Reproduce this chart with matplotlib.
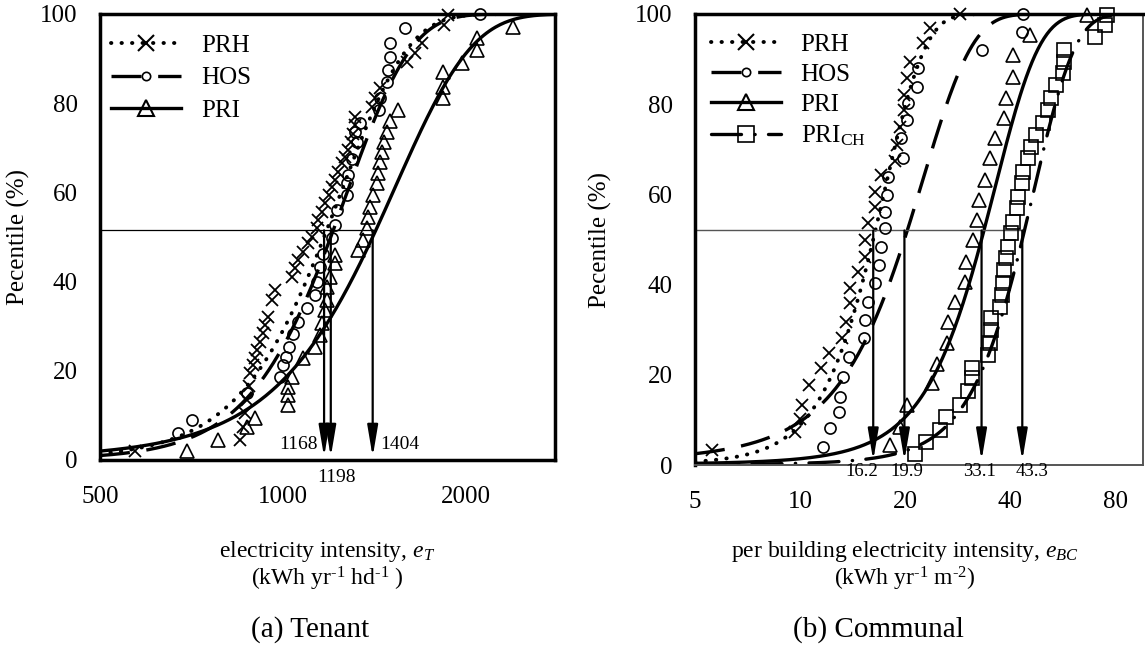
import math
import numpy as np
from matplotlib import pyplot as plt
from matplotlib.lines import Line2D
from matplotlib.ticker import FixedLocator, NullLocator, FuncFormatter

plt.rcParams['font.family'] = ['Liberation Serif', 'DejaVu Serif']
plt.rcParams['mathtext.fontset'] = 'custom'
plt.rcParams['mathtext.rm'] = 'Liberation Serif'
plt.rcParams['mathtext.it'] = 'Liberation Serif:italic'

#%% data

# (a) Tenant, electricity intensity (kWh/yr/hd) vs percentile
tenant_prh_x = [570, 850, 860, 866, 872, 878, 883, 894, 899, 905, 916, 928, 934, 946, 958,
                970, 1034, 1047, 1060, 1080, 1101, 1115, 1136, 1143, 1158, 1172, 1188, 1203,
                1218, 1233, 1249, 1265, 1281, 1295, 1305, 1313, 1313, 1400, 1417, 1444, 1600,
                1649, 1691, 1836, 1870]
tenant_prh_y = [2, 4.5, 7.5, 10.5, 13.5, 16.5, 19.4, 21.3, 22.8, 24.7, 26.5, 28.4, 30.3, 32.1,
                35.9, 38.1, 41.1, 43, 44.8, 46.7, 48.6, 50.1, 52, 53.8, 55.7, 57.6, 59.4, 61.3,
                62.8, 64.6, 66.5, 68, 69.5, 71.4, 73.2, 75.1, 77, 79.2, 81.1, 83.3, 89.3, 91.2,
                93.4, 97.5, 99.8]
tenant_hos_x = [672, 708, 872, 989, 1001, 1011, 1021, 1040, 1060, 1094, 1129, 1136, 1150, 1165,
                1203, 1218, 1225, 1273, 1273, 1281, 1300, 1322, 1313, 1339, 1438, 1444, 1481,
                1490, 1500, 1500, 1587, 2109]
tenant_hos_y = [6, 9, 15, 18.7, 21.3, 23.2, 25.4, 28.2, 31, 34, 37, 40, 43.2, 46.3, 49.7, 52.7,
                56, 59.4, 62, 63.9, 67.5, 71.4, 73.6, 75.5, 78.5, 81.1, 84.8, 87.4, 90.4, 93.4,
                96.8, 100]
tenant_pri_x = [694, 782, 872, 899, 1019, 1019, 1019, 1034, 1079, 1129, 1150, 1158, 1172, 1180,
                1180, 1195, 1218, 1218, 1328, 1354, 1373, 1380, 1390, 1406, 1426, 1433, 1444,
                1453, 1466, 1481, 1500, 1546, 1833, 1833, 1833, 1968, 2083, 2083, 2389]
tenant_pri_y = [2, 4.5, 7.5, 9.5, 12.3, 14.6, 16.4, 18.7, 22.9, 25.4, 28, 30.7, 33.6, 35.9,
                38.9, 41.1, 44.2, 46, 47, 49.3, 52, 54.5, 56.8, 59.4, 62.1, 64.3, 66.9, 69.1,
                71.4, 73.6, 75.9, 78.5, 81.2, 83.6, 87, 89, 91.9, 94.6, 97.1]
tenant_names = ["PRH", "HOS", "PRI"]
tenant_median = [1168, 1198, 1404]   # fitted medians (arrows)
tenant_sd = [305, 300, 440]          # spread of the fitted curves

# (b) Communal, per building electricity intensity (kWh/yr/m2)
communal_prh_x = [5.6, 9.7, 10.0, 10.1, 10.6, 11.5, 12.1, 13.2, 13.5, 13.9, 13.9, 14.7, 15.3,
                  15.3, 15.7, 16.4, 16.4, 17.1, 18.7, 18.9, 19.3, 19.9, 19.9, 20.3, 20.6, 22.5,
                  23.6, 28.7]
communal_prh_y = [3.3, 7.4, 10.3, 13.3, 17.7, 21.4, 24.8, 28.1, 31.8, 35.9, 39.2, 42.9, 46.2,
                  49.9, 53.6, 57.3, 60.6, 64.3, 67.3, 71, 75, 78.7, 82, 85.7, 89.4, 93.5, 96.8, 100]
communal_hos_x = [11.65, 12.2, 12.9, 13.0, 13.3, 13.8, 15.2, 15.3, 15.7, 16.4, 16.8, 17.1, 17.5,
                  17.5, 17.7, 17.9, 19.7, 19.5, 20.2, 20.4, 21.6, 21.8, 33.1, 43.1, 43.6]
communal_hos_y = [4.1, 8.1, 11.8, 15.1, 19.6, 24, 28.1, 32.2, 36.2, 40.3, 44.3, 48.4, 52.5, 56.2,
                  59.9, 63.9, 68, 72.4, 76.5, 80.2, 83.9, 88, 92, 96, 100]
communal_pri_x = [18.1, 19.3, 20.2, 23.8, 24.6, 26.3, 26.5, 27.7, 29.7, 29.9, 31.3, 32.2, 32.6,
                  33.8, 34.9, 36.2, 38.4, 38.8, 40.8, 40.8, 45.5, 66.2]
communal_pri_y = [4.4, 8.5, 13.3, 18.1, 22.5, 27, 31.8, 36.2, 40.6, 45.1, 49.9, 54.3, 58.8, 63.2,
                  68, 72.4, 76.9, 81.3, 86.1, 90.9, 95.3, 99.8]
communal_prich_x = [21.3, 23.0, 25.2, 26.2, 28.7, 30.3, 31.0, 31.0, 34.6, 35.0, 35.3, 35.3, 37.4,
                    37.8, 38.2, 38.5, 39.0, 39.4, 40.3, 40.8, 41.7, 42.2, 43.1, 43.6, 45.0, 46.0,
                    47.5, 49.6, 51.3, 52.4, 54.1, 56.6, 57.2, 57.2, 69.9, 74.9, 75.8]
communal_prich_y = [2.5, 5.2, 7.8, 10.7, 13.3, 16.3, 19.2, 21.4, 24.4, 27, 29.9, 32.5, 35.1,
                    37.7, 40.3, 43.2, 45.8, 48.4, 51.4, 53.9, 56.9, 59.5, 62.5, 65, 68, 70.6,
                    73.2, 75.8, 78.7, 81.3, 84.3, 86.9, 89.4, 92, 95, 97.6, 99.8]
communal_names = ["PRH", "HOS", "PRI", "PRI$_{\\mathrm{CH}}$"]
communal_median = [16.2, 19.9, 33.1, 43.3]
communal_sd = [4.6, 7.6, 10.5, 12.5]
communal_label_shift = [-8, 1.5, -1.5, 7]   # points, label offsets under the arrows

median_level = [51.5, 52.0]

#%% styles
W, H = 1145, 652
FS = 18
line_styles = [dict(ls=(0, (0.1, 2.6)), lw=2.8, dash_capstyle='round'),
               dict(ls=(0, (9, 5)), lw=2.4),
               dict(ls='-', lw=2.4),
               dict(ls=(0, (9, 4, 0.1, 4)), lw=2.4, dash_capstyle='round')]
marker_styles = [dict(marker='x', ms=8, mew=1.3, mfc='none', mec='k'),
                 dict(marker='o', ms=8, mew=1.2, mfc='none', mec='k'),
                 dict(marker='^', ms=10, mew=1.2, mfc='none', mec='k'),
                 dict(marker='s', ms=10, mew=1.2, mfc='none', mec='k')]
legend_marker = [dict(marker='x', ms=12, mew=1.5, mfc='none', mec='k'),
                 dict(marker='o', ms=6, mew=1.2, mfc='none', mec='k'),
                 dict(marker='^', ms=12, mew=1.5, mfc='none', mec='k'),
                 dict(marker='s', ms=11, mew=1.2, mfc='none', mec='k')]


def cdf(x, mu, sd):
    return np.array([50 * (1 + math.erf((v - mu) / (sd * math.sqrt(2)))) for v in x])


def setup(ax, xlim, xticks):
    ax.set_xscale("log")
    ax.set_xlim(*xlim)
    ax.set_ylim(0, 100)
    ax.xaxis.set_major_locator(FixedLocator(xticks))
    ax.xaxis.set_minor_locator(NullLocator())
    ax.xaxis.set_major_formatter(FuncFormatter(lambda v, p: "%g" % v))
    ax.set_yticks([0, 20, 40, 60, 80, 100])
    ax.tick_params(axis='x', length=0, labelsize=FS, pad=19)
    ax.tick_params(axis='y', length=0, labelsize=FS, pad=16)


fig = plt.figure(figsize=(W / 100, H / 100), dpi=100)
ax1 = fig.add_axes([100 / W, 1 - 460 / H, 455 / W, 446 / H])
ax2 = fig.add_axes([695 / W, 1 - 465 / H, 448 / W, 451 / H])

#%% (a) Tenant
setup(ax1, (500, 2800), [500, 1000, 2000])
tx = [tenant_prh_x, tenant_hos_x, tenant_pri_x]
ty = [tenant_prh_y, tenant_hos_y, tenant_pri_y]
grid = np.geomspace(500, 2800, 300)
for i in range(3):
    ax1.plot(grid, cdf(grid, tenant_median[i], tenant_sd[i]), color='k', **line_styles[i])
    ax1.plot(tx[i], ty[i], ls='none', clip_on=False, zorder=3, **marker_styles[i])
ax1.plot([500, tenant_median[-1]], [median_level[0]] * 2, color='k', lw=0.9)
for v in tenant_median:
    ax1.annotate('', xy=(v, 0.7), xytext=(v, median_level[0]),
                 arrowprops=dict(arrowstyle='-|>,head_length=1.9,head_width=0.32',
                                 lw=1.6, color='k', shrinkA=0, shrinkB=0, mutation_scale=10))
ax1.text(tenant_median[0] * 0.975, 3.5, "1168", fontsize=14, ha='right', va='center')
ax1.text(tenant_median[1] * 1.02, -4, "1198", fontsize=14, ha='center', va='center', clip_on=False)
ax1.text(tenant_median[2] * 1.03, 3.5, "1404", fontsize=14, ha='left', va='center')
for s in ax1.spines.values():
    s.set_linewidth(2.5)
ax1.legend([Line2D([], [], color='k', **line_styles[i], **legend_marker[i]) for i in range(3)],
           tenant_names, loc='upper left', bbox_to_anchor=(0.025, 0.955), frameon=False,
           fontsize=FS, handlelength=2.8, handletextpad=0.8, labelspacing=0.41,
           borderpad=0, borderaxespad=0, numpoints=1)

#%% (b) Communal
setup(ax2, (5, 96), [5, 10, 20, 40, 80])
cx = [communal_prh_x, communal_hos_x, communal_pri_x, communal_prich_x]
cy = [communal_prh_y, communal_hos_y, communal_pri_y, communal_prich_y]
grid = np.geomspace(5, 96, 300)
for i in range(4):
    ax2.plot(grid, cdf(grid, communal_median[i], communal_sd[i]), color='k', **line_styles[i])
    ax2.plot(cx[i], cy[i], ls='none', clip_on=False, zorder=3, **marker_styles[i])
ax2.plot([5, communal_median[-1]], [median_level[1]] * 2, color='#555555', lw=1.0)
for v, dx in zip(communal_median, communal_label_shift):
    ax2.annotate('', xy=(v, 1.0), xytext=(v, median_level[1]),
                 arrowprops=dict(arrowstyle='-|>,head_length=1.9,head_width=0.32',
                                 lw=1.6, color='k', shrinkA=0, shrinkB=0, mutation_scale=10))
    ax2.annotate("%.1f" % v, xy=(v, 0), xytext=(dx, -5), textcoords='offset points',
                 fontsize=13.5, ha='center', va='center', annotation_clip=False)
for k in ['left', 'top']:
    ax2.spines[k].set_linewidth(2.5)
for k in ['right', 'bottom']:
    ax2.spines[k].set_linewidth(1.4)
    ax2.spines[k].set_color('#555555')
ax2.legend([Line2D([], [], color='k', **line_styles[i], **legend_marker[i]) for i in range(4)],
           communal_names, loc='upper left', bbox_to_anchor=(0.035, 0.957), frameon=False,
           fontsize=FS, handlelength=2.8, handletextpad=0.8, labelspacing=0.3,
           borderpad=0, borderaxespad=0, numpoints=1)

#%% labels
fig.text(18 / W, 1 - 237 / H, "Pecentile (%)", rotation=90, fontsize=FS, ha='center', va='center')
fig.text(600 / W, 1 - 240 / H, "Pecentile (%)", rotation=90, fontsize=FS, ha='center', va='center')
fig.text(327 / W, 1 - 551 / H, "electricity intensity, $e_T$", fontsize=17, ha='center', va='center')
fig.text(327 / W, 1 - 579 / H, "(kWh yr$^{\\text{-1}}$ hd$^{\\text{-1}}$ )", fontsize=17,
         ha='center', va='center')
fig.text(905 / W, 1 - 551 / H, "per building electricity intensity, $e_{BC}$", fontsize=17,
         ha='center', va='center')
fig.text(905 / W, 1 - 579 / H, "(kWh yr$^{\\text{-1}}$ m$^{\\text{-2}}$)", fontsize=17,
         ha='center', va='center')
fig.text(310 / W, 1 - 630 / H, "(a) Tenant", fontsize=21, ha='center', va='center')
fig.text(878 / W, 1 - 630 / H, "(b) Communal", fontsize=21, ha='center', va='center')

plt.savefig("out.png", dpi=100)
